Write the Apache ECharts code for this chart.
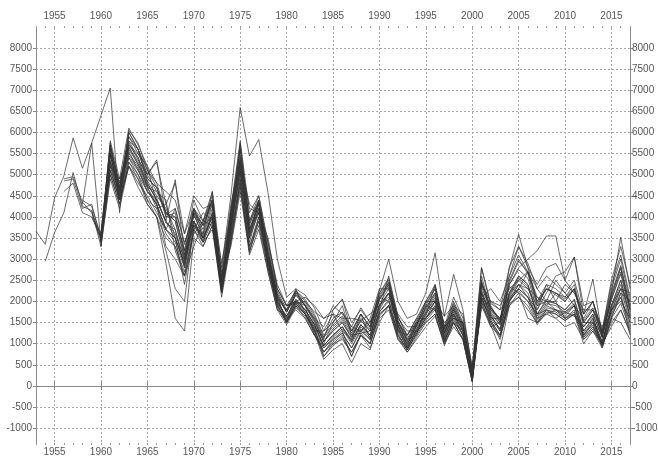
<!DOCTYPE html>
<html><head><meta charset="utf-8">
<script src="https://cdn.jsdelivr.net/npm/echarts@6/dist/echarts.min.js"></script>
<style>html,body{margin:0;padding:0;background:#fff}#c{width:658px;height:456px}</style>
</head><body><div id="c"></div>
<script>
const xLabelYears = [1955,1960,1965,1970,1975,1980,1985,1990,1995,2000,2005,2010,2015];
const yTickValues = [-1000,-500,0,500,1000,1500,2000,2500,3000,3500,4000,4500,5000,5500,6000,6500,7000,7500,8000];
const allYears = [1953,1954,1955,1956,1957,1958,1959,1960,1961,1962,1963,1964,1965,1966,1967,1968,1969,1970,1971,1972,1973,1974,1975,1976,1977,1978,1979,1980,1981,1982,1983,1984,1985,1986,1987,1988,1989,1990,1991,1992,1993,1994,1995,1996,1997,1998,1999,2000,2001,2002,2003,2004,2005,2006,2007,2008,2009,2010,2011,2012,2013,2014,2015,2016,2017];

const seriesStarts = [1953,1954,1956,1956,1956,1958,1958,1959,1959,1960,1960,1960,1960,1960,1960,1960,1960,1960,1960,1960,1960,1960,1961,1961];

const s01 = [3660,3350,4450,4970,5870,5150,5750,6400,7050,4100,6050,5750,5100,4700,4050,4200,3350,4150,3800,4400,2600,4100,5600,3900,4500,3300,2250,1800,2250,2000,1650,1150,1400,1600,1250,1700,1400,2200,2550,1550,1100,1550,2000,2350,1350,2000,1500,300,2450,1850,1550,2450,2950,2700,1950,2300,2150,2000,2300,1500,1800,1250,2200,2850,1900];
const s02 = [2950,3630,4100,5050,4250,4150,3400,5500,4800,5700,5400,4700,4300,3700,3500,2900,3900,3500,4000,2350,3800,5100,3600,4200,3000,2000,1650,2050,1800,1450,950,1200,1400,1050,1450,1200,1900,2200,1350,900,1350,1700,2000,1150,1700,1300,200,2200,1650,1350,2200,2600,2400,1700,2050,1950,1800,2050,1300,1600,1050,1900,2500,1650];
const s03 = [4900,4950,4350,4100,3500,5300,4500,5800,5600,5000,5300,4300,4800,3600,4200,3900,4600,2800,4500,6590,5440,5830,4570,3000,2100,2300,2150,1850,1300,1500,1750,1400,1850,1500,2200,2500,1650,1200,1600,2000,2400,1400,2100,1600,450,2800,1950,1800,2800,3300,2900,2300,2600,2400,2200,2500,1700,2000,1300,2400,3100,2100];
const s04 = [4850,4900,4200,4300,3450,5200,4900,5400,5100,4700,4600,4400,3200,2600,3300,3900,3800,2300,3700,5200,3500,4400,3100,2200,1750,2150,1900,1500,1050,1300,1500,1150,1550,1300,2050,2350,1450,950,1450,1850,2200,1250,1850,1400,250,2350,1750,1450,2350,2200,2000,1700,1800,1600,1750,1650,1400,1700,1150,2050,2650,1750];
const s05 = [4600,4800,4100,4000,3600,5000,4300,5300,5000,4400,4000,3500,3300,2700,3700,3400,3900,2200,3500,4900,3300,4000,2800,1900,1550,1950,1700,1350,800,1100,1250,900,1300,1100,1750,2050,1200,850,1250,1600,1850,1050,1600,1200,120,2100,1550,1200,2050,2400,2200,1600,1900,1800,1650,1900,1200,1450,950,1750,2300,1500];
const s06 = [4400,4250,3550,5700,4700,5900,5500,5200,4300,3700,4200,3400,4000,3800,4000,2700,4300,5300,4200,4100,3400,2400,1900,2000,1700,1400,1150,1600,1750,1300,1300,1500,1800,2600,1650,1150,1300,1650,2400,1400,1600,1500,250,2100,1850,1600,2100,2500,2700,2100,1900,2200,2100,2300,1500,1500,1250,1800,2300,2000];
const s07 = [4300,5750,3400,5600,4400,6000,5600,4800,4400,3900,3600,3000,3900,3400,4100,2250,3600,5700,3700,4100,2900,1950,1500,2250,1900,1200,1000,1500,1900,1200,1250,1300,2100,2000,1500,1100,1200,1900,1800,1300,1500,1100,200,1900,1400,1500,2000,2300,2100,1800,2400,2000,1600,1700,1400,1650,900,1600,2200,1200];
const s08 = [4150,3300,5800,4900,6100,5700,5200,4800,4100,4000,3200,4400,3900,4500,2450,4200,5800,4100,4500,3400,2300,1900,2250,2050,1700,1200,1450,1650,1300,1700,1400,2150,2450,1550,1050,1500,1950,2300,1350,1950,1450,300,2450,1850,1550,2500,3000,2650,1900,2300,2200,2050,2300,1500,1800,1200,2150,2800,1850];
const s09 = [4000,3500,5100,4400,5200,4900,4300,4000,2900,1600,1300,3500,3300,3800,2300,3400,4800,3200,3900,2900,1900,1500,1900,1700,1300,700,1000,1200,700,1250,1000,1700,1900,1150,800,1150,1500,1700,950,1500,1100,100,2000,1450,870,1900,2200,1600,1500,1800,1700,1550,1700,1000,1300,900,1600,1500,1100];
const s10 = [3450,5650,4600,5500,5200,4700,4200,4300,3500,2400,3700,4100,3900,2350,3900,5400,3650,4300,3050,2050,1900,1950,2000,1750,1600,1800,2050,1500,1800,1500,2050,2400,1400,950,1450,1800,2150,1200,1800,1350,200,1900,2000,1800,2100,2300,2700,2300,2000,2500,2200,1900,1600,2000,1300,1700,2200,2000];
const s11 = [3550,5300,4700,5650,5300,4850,4500,4200,3700,2800,4100,3500,4000,2200,3800,5100,3400,4200,3000,2000,1600,1800,1600,1200,900,1100,1300,700,1200,1000,1700,1900,1100,900,1300,1500,1700,1000,1400,1100,100,2000,1400,1200,1900,2100,1800,1500,1700,1600,1400,1500,1100,1300,1000,1400,1800,1300];
const s12 = [3600,5500,4500,5800,5400,4900,4700,4000,4000,3200,4100,3800,4400,2500,4100,5600,3900,4400,3200,2150,1750,2200,1950,1600,1100,1800,2050,1300,1700,1400,2250,3000,2000,1600,1700,2200,3150,1650,2640,1800,400,2600,1800,1600,2600,3100,2700,2000,2400,2300,2100,2400,1550,1850,1250,2300,3000,2000];
const s13 = [3400,5200,4400,5400,5000,4600,4400,3900,3500,2900,3900,3500,4100,2300,3700,5000,3500,4100,2900,1950,1650,2000,1800,1450,950,1200,1400,1100,1450,1200,1900,2200,1400,1000,1400,1750,2100,1250,1800,1350,200,2250,1700,1450,2400,2800,3000,3200,3550,3550,2500,3050,1700,2530,1200,2200,3520,2300];
const s14 = [3500,5450,4650,5700,5500,5000,4600,4100,3900,3000,4200,3600,4300,2400,4000,5300,3700,4300,3100,2100,1500,1900,1600,1200,800,1000,1100,800,1200,900,1500,1900,1300,1200,1500,1600,1900,1100,1500,1300,250,2800,1900,1500,2800,3590,2800,2000,2300,2200,2000,2300,1400,1700,1150,2100,2800,1800];
const s15 = [3300,5000,4300,5300,4900,4400,4200,3600,3300,2600,3700,3300,3800,2100,3400,4700,3200,3800,2700,1800,1450,1850,1650,1250,630,850,1000,550,1000,850,1600,1800,1100,800,1100,1400,1650,1000,1500,1100,100,1900,1500,1100,1950,2100,1900,1450,1750,1700,1550,1700,1100,1350,950,1500,1800,1250];
const s16 = [3600,5700,4800,5900,5600,5100,4800,4600,4400,3600,4500,4200,4300,2900,4100,5300,4300,4100,3500,2300,1900,2000,2100,1900,1600,1700,1600,1600,1550,1700,1900,2100,1700,1400,1400,2000,2000,1650,1900,1700,400,2400,2000,1900,2300,2500,2300,2100,2000,2000,2400,2200,1800,1800,1400,1900,2300,2200];
const s17 = [3400,5350,4500,5550,5100,4600,4300,3300,3000,2600,3600,3900,4400,2600,3300,4600,3100,3700,2700,1800,1650,2050,1800,1450,950,1200,1400,1050,1450,1200,1950,2300,1350,900,1350,1750,2050,1150,1750,1300,150,2250,1650,1350,2200,2600,2400,1700,2000,1950,1800,2050,1300,1600,1050,1900,2500,1650];
const s18 = [3350,5100,4400,5200,4800,4500,4100,3700,3400,2800,3800,3500,3900,2250,3600,4900,3300,3900,2800,1850,1500,1900,1700,1350,700,950,1150,800,1200,1000,1650,1900,1200,850,1200,1550,1800,1050,1550,1200,150,2050,1550,1200,2000,2300,2100,1550,1850,1800,1600,1800,1150,1400,1000,1650,2100,1400];
const s19 = [3500,5600,4700,5750,5350,5000,5350,4000,4100,3100,4100,3700,4400,2450,3900,5450,3800,4400,3100,2100,1750,2150,1900,1550,1050,1300,1500,1150,1550,1300,2050,2400,1450,1000,1450,1850,2200,1250,1850,1400,250,2400,1800,1500,2400,2750,2550,1800,2200,2600,2700,3050,1900,2000,1150,2050,2700,1800];
const s20 = [3450,5500,4550,5650,5250,4800,4400,3900,4880,3100,3800,3600,4600,2350,3950,5350,3600,4300,3000,2050,1800,2300,1700,1300,1300,1700,1300,1100,1700,1100,1800,2200,1500,1200,1600,1600,1900,1400,1600,1500,300,2100,1600,1600,2200,2400,2300,1900,2000,1800,1700,1900,1200,1500,1000,1800,2100,1500];
const s21 = [3300,4900,4200,5200,4700,4300,4000,3200,2300,2000,3800,3400,3700,2200,3500,4800,3150,4000,2850,1900,1550,1950,1700,1300,800,1050,1250,900,1350,1100,1750,2000,1250,850,1250,1600,1850,1050,1650,1200,150,2100,1500,1150,2050,2250,2000,1500,1800,1750,1600,1750,1150,1400,950,1600,1950,1350];
const s22 = [3550,5750,4650,6000,5600,4900,4700,4100,3900,3050,4200,3800,4300,2500,4100,5750,3850,4350,3200,2150,1750,2200,1900,1550,1050,1350,1550,1200,1600,1350,2100,2450,1500,1050,1500,1900,2300,1300,1900,1450,300,2100,2300,2000,2600,3300,2800,2400,2800,2900,2500,2200,1700,2000,1300,2500,3300,2400];
const s23 = [5450,4600,5600,5250,4750,4450,3850,3700,2950,4050,3550,4200,2400,3850,5300,3700,4350,3050,2100,1500,2000,1900,1600,1400,1900,1700,1400,1300,1600,2300,2300,1600,1300,1300,1600,2000,1500,1700,1200,350,2500,1700,1300,2000,2400,2100,1600,1700,1800,1750,1900,1200,1500,1000,1800,2000,1600];
const s24 = [5250,4450,5450,5150,4600,4300,3700,3500,2850,3900,3450,4050,2250,3750,5150,3550,4200,2950,2000,1600,2000,1750,1400,900,1150,1350,1000,1400,1150,1900,2200,1300,900,1300,1700,2000,1100,1700,1300,150,2200,1600,1300,2150,2550,2350,1650,1950,1900,1750,1950,1250,1550,1000,1850,2400,1600];

const seriesValues = [s01,s02,s03,s04,s05,s06,s07,s08,s09,s10,s11,s12,s13,s14,s15,s16,s17,s18,s19,s20,s21,s22,s23,s24];

const chart = echarts.init(document.getElementById('c'), null, {renderer:'canvas'});
const gridLine = {show:true, lineStyle:{color:'#a8a8a8', type:[2,2], width:1}};
const lab = {fontSize:10, color:'#555', fontFamily:'Liberation Sans, Arial, sans-serif', formatter: v => String(v)};
const axisLineStyle = {show:true, lineStyle:{color:'#8a8a8a', width:1}};

function xMain(pos, split){
  return {type:'value', position:pos, min:1953, max:2017,
    axisLine:axisLineStyle,
    axisTick:{show:true, customValues:xLabelYears, length:4, lineStyle:{color:'#888'}},
    axisLabel:Object.assign({show:true, customValues:xLabelYears, margin: pos==='top'?7:4}, lab),
    splitLine: split ? gridLine : {show:false}};
}
function xMinor(pos){
  return {type:'value', position:pos, min:1953, max:2017,
    axisLine:{show:false},
    axisTick:{show:true, customValues:allYears, length:2, lineStyle:{color:'#999'}},
    axisLabel:{show:false}, splitLine:{show:false}};
}
function yMain(pos, split){
  return {type:'value', position:pos, min:-1350, max:8470,
    axisLine:axisLineStyle,
    axisTick:{show:true, customValues:yTickValues, length:3, lineStyle:{color:'#888'}},
    axisLabel:Object.assign({show:true, customValues:yTickValues, margin: pos==='right'?2:4}, lab),
    splitLine: split ? gridLine : {show:false}};
}

const series = seriesValues.map((vals, k) => ({
  type:'line', xAxisIndex:0, yAxisIndex:0, symbol:'none', silent:true,
  lineStyle:{color:'#333', width:1, opacity:0.72},
  data: vals.map((v, i) => [seriesStarts[k] + i, v])
}));

chart.setOption({
  animation:false,
  backgroundColor:'#ffffff',
  grid:{left:36, right:28, top:28, bottom:13, containLabel:false, outerBoundsMode:'none'},
  xAxis:[xMain('bottom', true), xMain('top', false), xMinor('bottom'), xMinor('top')],
  yAxis:[yMain('left', true), yMain('right', false)],
  series: series
});
</script></body></html>
